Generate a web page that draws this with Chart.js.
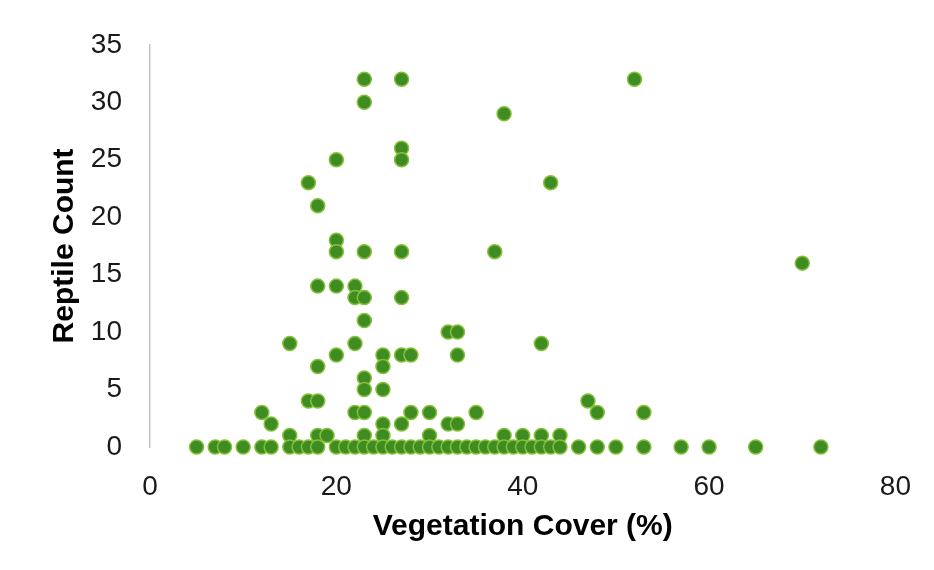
<!DOCTYPE html>
<html>
<head>
<meta charset="utf-8">
<script src="https://cdn.jsdelivr.net/npm/chart.js@4"></script>
<style>
  html, body { margin: 0; padding: 0; background: #ffffff; }
  #wrap { width: 934px; height: 570px; }
</style>
</head>
<body>
<div id="wrap"><canvas id="chart" width="934" height="570"></canvas></div>
<script>
'use strict';

// vegetation cover (%) and reptile count per site
const coverValues = [
  23, 27, 52, 23, 38, 27, 20, 27, 17, 43, 18,
  20, 20, 23, 27, 37, 70,
  18, 20, 22, 22, 23, 27, 23,
  32, 33, 15, 22, 42,
  20, 25, 27, 28, 33, 18, 25, 23, 23, 25,
  17, 18, 47,
  12, 22, 23, 28, 30, 35, 48, 53,
  13, 25, 27, 32, 33,
  15, 18, 19, 23, 25, 30, 38, 40, 42, 44,
  5, 7, 8, 10, 12, 13, 15, 16, 17, 18, 20, 21, 22, 23, 24, 25, 26, 27, 28, 29,
  30, 31, 32, 33, 34, 35, 36, 37, 38, 39, 40, 41, 42, 43, 44, 46, 48, 50,
  53, 57, 60, 65, 72
];
const reptileCounts = [
  32, 32, 32, 30, 29, 26, 25, 25, 23, 23, 21,
  18, 17, 17, 17, 17, 16,
  14, 14, 14, 13, 13, 13, 11,
  10, 10, 9, 9, 9,
  8, 8, 8, 8, 8, 7, 7, 6, 5, 5,
  4, 4, 4,
  3, 3, 3, 3, 3, 3, 3, 3,
  2, 2, 2, 2, 2,
  1, 1, 1, 1, 1, 1, 1, 1, 1, 1,
  0, 0, 0, 0, 0, 0, 0, 0, 0, 0, 0, 0, 0, 0, 0, 0, 0, 0, 0, 0,
  0, 0, 0, 0, 0, 0, 0, 0, 0, 0, 0, 0, 0, 0, 0, 0, 0, 0,
  0, 0, 0, 0, 0
];
const xTicks = [0, 20, 40, 60, 80];
const yTicks = [0, 5, 10, 15, 20, 25, 30, 35];

let points = [];
for (let i = 0; i < coverValues.length; i++) {
  points.push({ x: coverValues[i], y: reptileCounts[i] });
}

const ctx = document.getElementById('chart');

new Chart(ctx, {
  type: 'scatter',
  data: {
    datasets: [{
      label: 'Reptile Count',
      data: points,
      pointRadius: 7,
      pointHoverRadius: 7,
      pointBackgroundColor: '#3f8c22',
      pointBorderColor: '#86c03a',
      pointBorderWidth: 1.5,
      clip: false
    }]
  },
  options: {
    responsive: false,
    animation: false,
    layout: { padding: { top: 35, right: 34, left: 0, bottom: 0 } },
    plugins: {
      legend: { display: false },
      tooltip: { enabled: false }
    },
    scales: {
      x: {
        type: 'linear',
        min: xTicks[0],
        max: xTicks[xTicks.length - 1],
        afterFit: (scale) => { scale.height = 123; },
        afterBuildTicks: (scale) => { scale.ticks = xTicks.map(v => ({ value: v })); },
        grid: { display: false, drawTicks: false },
        border: { display: false },
        ticks: {
          padding: 23,
          color: '#1a1a1a',
          font: { family: 'Liberation Sans, Arial, sans-serif', size: 28 }
        },
        title: {
          display: true,
          text: 'Vegetation Cover (%)',
          color: '#000000',
          padding: { top: 0, bottom: 25 },
          font: { family: 'Liberation Sans, Arial, sans-serif', size: 30, weight: 'bold' }
        }
      },
      y: {
        type: 'linear',
        min: yTicks[0],
        max: yTicks[yTicks.length - 1],
        afterFit: (scale) => { scale.width = 150; },
        afterBuildTicks: (scale) => { scale.ticks = yTicks.map(v => ({ value: v })); },
        grid: { display: false, drawTicks: false },
        border: { display: true, color: '#c4c4c4', width: 1.5 },
        ticks: {
          padding: 28,
          color: '#1a1a1a',
          font: { family: 'Liberation Sans, Arial, sans-serif', size: 28 }
        },
        title: {
          display: true,
          text: 'Reptile Count',
          color: '#000000',
          padding: { top: 47, bottom: 0 },
          font: { family: 'Liberation Sans, Arial, sans-serif', size: 30, weight: 'bold' }
        }
      }
    }
  }
});
</script>
</body>
</html>
